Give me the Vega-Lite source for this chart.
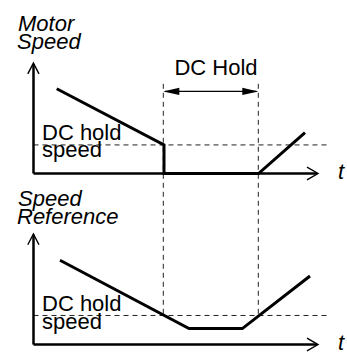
{
  "$schema": "https://vega.github.io/schema/vega-lite/v6.json",
  "width": 347,
  "height": 354,
  "autosize": {"type": "fit", "contains": "padding"},
  "padding": 0,
  "background": "white",
  "config": {"view": {"stroke": null}},
  "datasets": {
    "dashes": [
      {"t": 33.5, "v": 147, "t2": 327, "v2": 147},
      {"t": 33.5, "v": 320, "t2": 327, "v2": 320},
      {"t": 163.3, "v": 85, "t2": 163.3, "v2": 320},
      {"t": 258.3, "v": 85, "t2": 258.3, "v2": 320}
    ],
    "axes": [
      {"t": 33.5, "v": 65, "t2": 33.5, "v2": 176},
      {"t": 33.5, "v": 176, "t2": 317, "v2": 176},
      {"t": 33.5, "v": 238, "t2": 33.5, "v2": 349.5},
      {"t": 33.5, "v": 349.5, "t2": 317, "v2": 349.5}
    ],
    "curves": [
      {"series": "motor", "o": 1, "t": 56.7, "v": 90},
      {"series": "motor", "o": 2, "t": 164, "v": 147},
      {"series": "motor", "o": 3, "t": 164, "v": 176},
      {"series": "motor", "o": 4, "t": 258.5, "v": 176},
      {"series": "motor", "o": 5, "t": 305, "v": 134.5},
      {"series": "ref", "o": 1, "t": 60, "v": 264},
      {"series": "ref", "o": 2, "t": 189, "v": 333.3},
      {"series": "ref", "o": 3, "t": 242.3, "v": 333.3},
      {"series": "ref", "o": 4, "t": 310, "v": 280}
    ],
    "hold": [
      {"t": 165, "v": 92.7, "t2": 256.5, "v2": 92.7}
    ],
    "heads": [
      {"dir": "left", "t": 163.3, "v": 92.7},
      {"dir": "right", "t": 258.3, "v": 92.7}
    ],
    "openheads": [
      {"arrow": "a1", "o": 1, "t": 27.8, "v": 75},
      {"arrow": "a1", "o": 2, "t": 33.4, "v": 64},
      {"arrow": "a1", "o": 3, "t": 39, "v": 75},
      {"arrow": "a2", "o": 1, "t": 27.8, "v": 248.3},
      {"arrow": "a2", "o": 2, "t": 33.4, "v": 237.3},
      {"arrow": "a2", "o": 3, "t": 39, "v": 248.3},
      {"arrow": "a3", "o": 1, "t": 307, "v": 169.5},
      {"arrow": "a3", "o": 2, "t": 318, "v": 176},
      {"arrow": "a3", "o": 3, "t": 307, "v": 182.5},
      {"arrow": "a4", "o": 1, "t": 307, "v": 343},
      {"arrow": "a4", "o": 2, "t": 318, "v": 349.5},
      {"arrow": "a4", "o": 3, "t": 307, "v": 356}
    ],
    "titles": [
      {"label": "Motor", "t": 18, "v": 31.7},
      {"label": "Speed", "t": 17, "v": 49.5},
      {"label": "Speed", "t": 18, "v": 209},
      {"label": "Reference", "t": 17, "v": 227.3}
    ],
    "labels": [
      {"label": "DC hold", "t": 42, "v": 141.7},
      {"label": "speed", "t": 42, "v": 159.3},
      {"label": "DC hold", "t": 42, "v": 315.7},
      {"label": "speed", "t": 42, "v": 333.3}
    ],
    "hold_label": [
      {"label": "DC Hold", "t": 216, "v": 76.5}
    ],
    "tlabels": [
      {"label": "t", "t": 338, "v": 181.5},
      {"label": "t", "t": 338, "v": 355}
    ]
  },
  "encoding": {
    "x": {"field": "t", "type": "quantitative", "scale": {"domain": [0, 347], "nice": false, "zero": false}, "axis": null},
    "y": {"field": "v", "type": "quantitative", "scale": {"domain": [0, 354], "nice": false, "zero": false, "reverse": true}, "axis": null}
  },
  "layer": [
    {
      "data": {"name": "dashes"},
      "mark": {"type": "rule", "strokeDash": [5, 4], "strokeWidth": 1, "color": "#222"},
      "encoding": {"x2": {"field": "t2"}, "y2": {"field": "v2"}}
    },
    {
      "data": {"name": "axes"},
      "mark": {"type": "rule", "strokeWidth": 2.5, "color": "black"},
      "encoding": {"x2": {"field": "t2"}, "y2": {"field": "v2"}}
    },
    {
      "data": {"name": "curves"},
      "mark": {"type": "line", "strokeWidth": 3, "color": "black", "strokeJoin": "miter"},
      "encoding": {"detail": {"field": "series"}, "order": {"field": "o", "type": "quantitative"}}
    },
    {
      "data": {"name": "hold"},
      "mark": {"type": "rule", "strokeWidth": 1.4, "color": "black"},
      "encoding": {"x2": {"field": "t2"}, "y2": {"field": "v2"}}
    },
    {
      "data": {"name": "heads"},
      "mark": {"type": "point", "filled": true, "opacity": 1, "size": 256, "color": "black", "strokeWidth": 0},
      "encoding": {
        "shape": {"field": "dir", "type": "nominal", "legend": null,
          "scale": {"domain": ["left", "right"], "range": ["M0,0L2,-0.46L2,0.46Z", "M0,0L-2,-0.46L-2,0.46Z"]}}
      }
    },
    {
      "data": {"name": "openheads"},
      "mark": {"type": "line", "strokeWidth": 1.4, "color": "black", "strokeJoin": "miter"},
      "encoding": {"detail": {"field": "arrow"}, "order": {"field": "o", "type": "quantitative"}}
    },
    {
      "data": {"name": "titles"},
      "mark": {"type": "text", "align": "left", "baseline": "alphabetic", "font": "Liberation Sans", "fontStyle": "italic", "fontSize": 22, "color": "black"},
      "encoding": {"text": {"field": "label"}}
    },
    {
      "data": {"name": "labels"},
      "mark": {"type": "text", "align": "left", "baseline": "alphabetic", "font": "Liberation Sans", "fontSize": 22, "color": "black"},
      "encoding": {"text": {"field": "label"}}
    },
    {
      "data": {"name": "hold_label"},
      "mark": {"type": "text", "align": "center", "baseline": "alphabetic", "font": "Liberation Sans", "fontSize": 22, "color": "black"},
      "encoding": {"text": {"field": "label"}}
    },
    {
      "data": {"name": "tlabels"},
      "mark": {"type": "text", "align": "left", "baseline": "alphabetic", "font": "Liberation Sans", "fontStyle": "italic", "fontSize": 22, "color": "black"},
      "encoding": {"text": {"field": "label"}}
    }
  ]
}
